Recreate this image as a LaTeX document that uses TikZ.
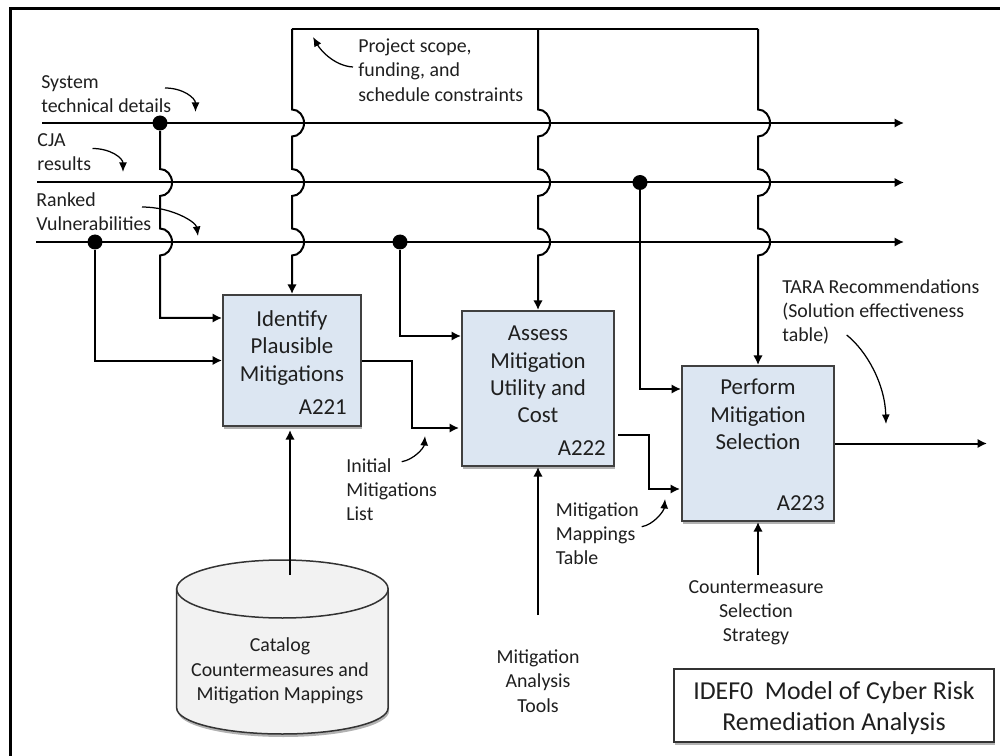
\documentclass[tikz,border=0pt]{standalone}
\usepackage{fontspec}
\setmainfont{Carlito}
\usetikzlibrary{arrows.meta,
                positioning,
                shadows
            }

\definecolor{boxblue}{HTML}{DCE6F2}
\definecolor{cylgray}{HTML}{F2F2F2}
\definecolor{inktext}{HTML}{1F1F1F}

\tikzset{
    wire/.style={line width=0.4mm, -{Latex[length=1.9mm,width=1.9mm]}},
    rail/.style={line width=0.4mm},
    note/.style={line width=0.25mm, -{Latex[length=1.9mm,width=1.6mm]}},
    junction/.style={circle, fill=black, inner sep=0pt, minimum size=3mm},
    softshadow/.style={drop shadow={shadow xshift=0.2mm, shadow yshift=-0.6mm, opacity=0.3, fill=black}},
    procbox/.style={draw=black!75, line width=0.4mm, fill=boxblue, softshadow, minimum width=30.4mm, minimum height=31mm},
    boxtext/.style={align=center, text=inktext, font=\fontsize{13}{15.5}\selectfont},
    notetext/.style={align=left, text=inktext, font=\fontsize{11.3}{13.8}\selectfont, anchor=west, inner sep=0pt},
    centertext/.style={align=center, text=inktext, font=\fontsize{11.3}{13.8}\selectfont, inner sep=0pt}
}

% vertical line hopping over a horizontal one
\newcommand{\hopat}[2]{-- ([yshift=2.7mm]#1 |- #2) arc[start angle=-90, end angle=90, x radius=12, y radius=13.5]}

\begin{document}
\begin{tikzpicture}[x=0.2mm, y=-0.2mm]
    \useasboundingbox (0, 0) rectangle (1000, 756);

    % frame
    \draw[line width=0.6mm] (10.5, 756) -- (10.5, 8.5) -- (1000, 8.5);

    % boxes
    \node[procbox, minimum width=27.6mm, minimum height=26.2mm] (A221) at (292, 360.5) {};
    \node[procbox] (A222) at (538, 388.5) {};
    \node[procbox] (A223) at (758, 443.5) {};
    \node[boxtext, below=2.1mm of A221.north] (A221text) {Identify\\Plausible\\Mitigations};
    \node[boxtext, below=2mm of A222.north] (A222text) {Assess\\Mitigation\\Utility and\\Cost};
    \node[boxtext, below=1.6mm of A223.north] (A223text) {Perform\\Mitigation\\Selection};
    \node[boxtext, anchor=east] (A221id) at (353, 407) {A221};
    \node[boxtext, anchor=east] (A222id) at (612, 448) {A222};
    \node[boxtext, anchor=east] (A223id) at (831, 503) {A223};

    % catalog
    \draw[draw=black!80, line width=0.3mm, fill=cylgray, softshadow] (176.7, 589) -- (176.7, 708)
        arc[start angle=180, end angle=0, x radius=105.7, y radius=26] -- (388.1, 589) -- cycle;
    \draw[draw=black!80, line width=0.3mm, fill=cylgray] (282.4, 589) ellipse [x radius=105.7, y radius=29];
    \node[centertext] (catalog) at (280, 671) {Catalog\\Countermeasures and\\Mitigation Mappings};

    % horizontal lines
    \coordinate (sysIn) at (42, 123);
    \coordinate (sysOut) at (904, 123);
    \coordinate (cjaIn) at (37, 182.5);
    \coordinate (cjaOut) at (904, 182.5);
    \coordinate (rankIn) at (36, 242);
    \coordinate (rankOut) at (904, 242);
    \draw[wire] (sysIn) -- (sysOut);
    \draw[wire] (cjaIn) -- (cjaOut);
    \draw[wire] (rankIn) -- (rankOut);

    \node[junction] (dotSys) at (160, 123) {};
    \node[junction] (dotCja) at (640, 182.5) {};
    \node[junction] (dotRankA) at (95, 242) {};
    \node[junction] (dotRankB) at (400, 242) {};

    % scope rail
    \coordinate (railA) at (292, 29);
    \coordinate (railB) at (538, 29);
    \coordinate (railC) at (758, 29);
    \draw[rail] (railA) -- (railC);
    \draw[wire] (railA) \hopat{A221.north}{sysIn} \hopat{A221.north}{cjaIn} \hopat{A221.north}{rankIn} -- (A221.north);
    \draw[wire] (railB) \hopat{A222.north}{sysIn} \hopat{A222.north}{cjaIn} \hopat{A222.north}{rankIn} -- (A222.north);
    \draw[wire] (railC) \hopat{A223.north}{sysIn} \hopat{A223.north}{cjaIn} \hopat{A223.north}{rankIn} -- (A223.north);

    % inputs
    \draw[wire] (dotSys) \hopat{dotSys}{cjaIn} \hopat{dotSys}{rankIn} |- ([yshift=8.5mm]A221.west);
    \draw[wire] (dotRankA) |- (A221.west);
    \draw[wire] (dotRankB) |- ([yshift=10.5mm]A222.west);
    \draw[wire] (dotCja) |- ([yshift=10.9mm]A223.west);

    % box to box
    \coordinate (listIn) at (459, 428);
    \coordinate (tableStart) at (618, 435);
    \coordinate (tableIn) at (680, 489);
    \coordinate (resultOut) at (987, 443.5);
    \draw[wire] (A221.east) -- ++(50, 0) |- (listIn);
    \draw[wire] (tableStart) -- ++(31, 0) |- (tableIn);
    \draw[wire] (A223.east) -- (resultOut);

    % from below
    \coordinate (catalogOut) at (290, 575);
    \coordinate (toolsOut) at (538, 615);
    \coordinate (strategyOut) at (758, 575);
    \draw[wire, shorten >=0.6mm] (catalogOut) -- (catalogOut |- A221.south);
    \draw[wire] (toolsOut) -- (A222.south);
    \draw[wire] (strategyOut) -- (A223.south);

    % labels
    \node[notetext] (sysLabel) at (41, 94) {System\\technical details};
    \node[notetext] (cjaLabel) at (37, 152) {CJA\\results};
    \node[notetext] (rankLabel) at (36, 212) {Ranked\\Vulnerabilities};
    \node[notetext] (scopeLabel) at (358, 70) {Project scope,\\funding, and\\schedule constraints};
    \node[notetext] (listLabel) at (346, 489.5) {Initial\\Mitigations\\List};
    \node[notetext] (tableLabel) at (555.5, 533.5) {Mitigation\\Mappings\\Table};
    \node[notetext] (taraLabel) at (782, 312) {TARA Recommendations\\(Solution effectiveness\\table)};
    \node[centertext] (strategyLabel) at (756, 613) {Countermeasure\\Selection\\Strategy};
    \node[centertext] (toolsLabel) at (538, 681) {Mitigation\\Analysis\\Tools};

    % title
    \node[draw=black!80, line width=0.4mm, fill=white, softshadow, minimum width=64mm, minimum height=14.6mm] (titleBox) at (833.5, 705.5) {};
    \node[align=center, text=inktext, font=\fontsize{14.7}{17.6}\selectfont] (titleText) at (834, 708) {IDEF0\ \ Model of Cyber Risk\\Remediation Analysis};

    % curved pointers
    \coordinate (sysFrom) at (165, 88);
    \coordinate (sysTip) at (195.5, 112);
    \coordinate (cjaFrom) at (92.5, 148.5);
    \coordinate (cjaTip) at (123, 172);
    \coordinate (rankFrom) at (142, 207);
    \coordinate (rankTip) at (198, 236);
    \coordinate (scopeFrom) at (353, 67);
    \coordinate (scopeTip) at (313, 37);
    \coordinate (listFrom) at (401.7, 461.7);
    \coordinate (listTip) at (425, 436);
    \coordinate (tableFrom) at (641.7, 526.7);
    \coordinate (tableTip) at (665, 499);
    \coordinate (taraFrom) at (846.7, 335);
    \coordinate (taraTip) at (886, 424);
    \draw[note] (sysFrom) .. controls +(18, 0) and +(0, -14) .. (sysTip);
    \draw[note] (cjaFrom) .. controls +(18, 0) and +(0, -14) .. (cjaTip);
    \draw[note] (rankFrom) .. controls +(30, 0) and +(-2, -14) .. (rankTip);
    \draw[note] (scopeFrom) .. controls +(-18, -1) and +(8, 14) .. (scopeTip);
    \draw[note] (listFrom) .. controls +(12, -2) and +(-1, 12) .. (listTip);
    \draw[note] (tableFrom) .. controls +(12, -2) and +(-1, 12) .. (tableTip);
    \draw[note] (taraFrom) .. controls +(20, 16) and +(-1, -40) .. (taraTip);
\end{tikzpicture}
\end{document}
